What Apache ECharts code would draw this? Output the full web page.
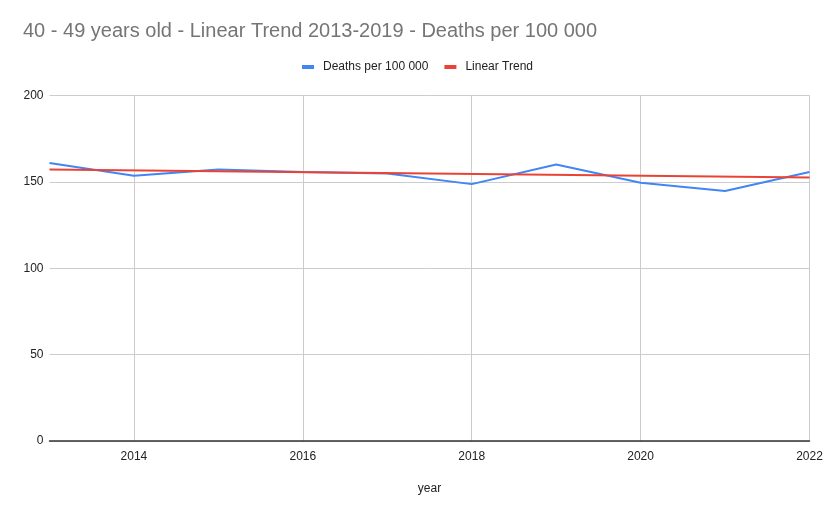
<!DOCTYPE html>
<html><head><meta charset="utf-8">
<script src="https://cdn.jsdelivr.net/npm/echarts@6/dist/echarts.min.js"></script>
<style>html,body{margin:0;padding:0;background:#fff}#c{width:833px;height:513px}</style>
</head><body><div id="c"></div>
<script>
const years = ['2013','2014','2015','2016','2017','2018','2019','2020','2021','2022'];
const deaths = [160.9, 153.5, 157.2, 155.7, 154.9, 148.7, 160.1, 149.5, 144.7, 155.7];
const trendYears = ['2013','2022'];
const trendValues = [157.2, 152.5];
const yTicks = [0, 50, 100, 150, 200];

const chart = echarts.init(document.getElementById('c'));
const font = 'Arial, "Liberation Sans", sans-serif';
chart.setOption({
  animation: false,
  textStyle: {fontFamily: font},
  title: {
    text: '40 - 49 years old - Linear Trend 2013-2019 - Deaths per 100 000',
    left: 23, top: 21, padding: 0,
    textStyle: {fontFamily: font, fontSize: 20, fontWeight: 'normal', color: '#757575'}
  },
  legend: {
    left: 302, top: 61, padding: 0,
    icon: 'rect', itemWidth: 12, itemHeight: 4, itemGap: 16,
    textStyle: {fontFamily: font, fontSize: 12, color: '#222', padding: [0, 0, 0, 4]},
    data: ['Deaths per 100 000', 'Linear Trend']
  },
  grid: {left: 49.5, right: 23.5, top: 95.5, bottom: 72, containLabel: false},
  xAxis: {
    type: 'category', data: years, boundaryGap: false,
    name: 'year', nameLocation: 'middle', nameGap: 42,
    nameTextStyle: {fontFamily: font, fontSize: 12, color: '#222'},
    axisLine: {lineStyle: {color: '#333', width: 1.5}},
    axisTick: {show: false},
    axisLabel: {interval: (i) => i % 2 === 1, color: '#222', fontSize: 12, margin: 10, fontFamily: font},
    splitLine: {show: true, interval: (i) => i % 2 === 1, lineStyle: {color: '#ccc', width: 1}}
  },
  yAxis: {
    type: 'value', min: yTicks[0], max: yTicks[yTicks.length-1], interval: 50,
    axisLine: {show: false}, axisTick: {show: false},
    axisLabel: {color: '#222', fontSize: 12, margin: 6, fontFamily: font},
    splitLine: {lineStyle: {color: '#ccc', width: 1}}
  },
  series: [
    {
      name: 'Deaths per 100 000', type: 'line', data: deaths,
      symbol: 'none', lineStyle: {color: '#4285F4', width: 2}, itemStyle: {color: '#4285F4'}, z: 2
    },
    {
      name: 'Linear Trend', type: 'line', data: trendYears.map((y, i) => [y, trendValues[i]]),
      symbol: 'none', lineStyle: {color: '#EA4335', width: 2}, itemStyle: {color: '#EA4335'}, z: 3
    }
  ]
});
</script></body></html>
